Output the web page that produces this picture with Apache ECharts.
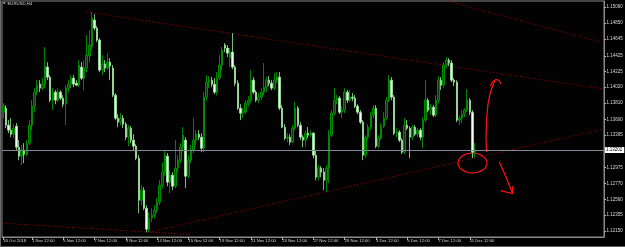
<!DOCTYPE html>
<html><head><meta charset="utf-8">
<script src="https://cdn.jsdelivr.net/npm/echarts@6/dist/echarts.min.js"></script>
<style>html,body{margin:0;padding:0;background:#000}#c{width:625px;height:247px}</style>
</head><body><div id="c"></div>
<script>
// ---- DATA (EURUSD, H4) ----
const symbolTitle = 'EURUSD,H4';
const opens = [1.13694,1.13746,1.13525,1.13460,1.13408,1.13512,1.13239,1.13122,1.13200,1.13148,1.13291,1.13525,1.13772,1.13954,1.14058,1.14006,1.14058,1.14279,1.14149,1.13850,
1.13954,1.13850,1.13954,1.13876,1.13798,1.14006,1.14058,1.14136,1.14071,1.14045,1.14279,1.14136,1.14266,1.14422,1.14552,1.14890,1.14786,1.14630,1.14240,1.14318,
1.14266,1.14344,1.14266,1.13915,1.13616,1.13564,1.13616,1.13538,1.13369,1.13486,1.13330,1.13252,1.13096,1.12550,1.12680,1.12446,1.12173,1.12316,1.12355,1.12420,
1.12524,1.12745,1.12914,1.13122,1.12784,1.12875,1.12732,1.12966,1.13070,1.13239,1.13330,1.12862,1.13070,1.13200,1.13330,1.13408,1.13369,1.13226,1.13889,1.14084,
1.14110,1.14058,1.13954,1.14136,1.14305,1.14565,1.14526,1.14396,1.14474,1.14279,1.14071,1.13746,1.13681,1.13694,1.13811,1.13850,1.14110,1.13954,1.13850,1.13889,
1.13954,1.14019,1.14110,1.14071,1.14006,1.14110,1.14149,1.13746,1.13499,1.13356,1.13369,1.13304,1.13486,1.13746,1.13525,1.13369,1.13330,1.13421,1.13395,1.13421,
1.13135,1.12849,1.12966,1.12914,1.12810,1.12966,1.13395,1.13681,1.13850,1.13876,1.13694,1.13720,1.13954,1.13850,1.13889,1.13876,1.13772,1.13694,1.13564,1.13135,
1.13369,1.13499,1.13655,1.13746,1.13252,1.13356,1.13512,1.13616,1.13850,1.14110,1.13889,1.13421,1.13434,1.13330,1.13174,1.13525,1.13486,1.13369,1.13499,1.13408,
1.13460,1.13369,1.13590,1.13850,1.13720,1.13759,1.13655,1.13850,1.14110,1.14045,1.14305,1.14370,1.14331,1.14110,1.14084,1.13590,1.13616,1.13668,1.13720,1.13850,
1.13694,1.13174];
const closes = [1.13772,1.13525,1.13460,1.13408,1.13486,1.13239,1.13122,1.13200,1.13148,1.13291,1.13525,1.13772,1.13954,1.14045,1.14006,1.14058,1.14292,1.14149,1.13850,1.13954,
1.13850,1.13954,1.13876,1.13798,1.14006,1.14058,1.14136,1.14058,1.14045,1.14305,1.14136,1.14266,1.14435,1.14565,1.14916,1.14786,1.14630,1.14240,1.14318,1.14266,
1.14344,1.14292,1.13915,1.13616,1.13564,1.13616,1.13538,1.13369,1.13486,1.13330,1.13252,1.13096,1.12550,1.12680,1.12446,1.12173,1.12316,1.12355,1.12420,1.12524,
1.12745,1.12914,1.13135,1.12784,1.12875,1.12732,1.12966,1.13070,1.13239,1.13395,1.12862,1.13070,1.13200,1.13330,1.13408,1.13369,1.13226,1.13889,1.14084,1.14110,
1.14058,1.13954,1.14136,1.14305,1.14500,1.14526,1.14461,1.14474,1.14279,1.14071,1.13746,1.13681,1.13694,1.13811,1.13850,1.14110,1.13954,1.13850,1.13889,1.13954,
1.14019,1.14110,1.14071,1.14006,1.14110,1.14149,1.13746,1.13499,1.13356,1.13369,1.13304,1.13486,1.13746,1.13525,1.13369,1.13330,1.13421,1.13395,1.13421,1.13135,
1.12849,1.12966,1.12914,1.12810,1.12966,1.13395,1.13681,1.13850,1.13876,1.13694,1.13720,1.13954,1.13850,1.13889,1.13876,1.13772,1.13694,1.13564,1.13135,1.13369,
1.13499,1.13655,1.13746,1.13252,1.13356,1.13512,1.13616,1.13850,1.14110,1.13889,1.13421,1.13434,1.13330,1.13174,1.13525,1.13486,1.13369,1.13499,1.13408,1.13460,
1.13369,1.13590,1.13850,1.13720,1.13759,1.13655,1.13850,1.14110,1.14045,1.14305,1.14370,1.14331,1.14110,1.14084,1.13590,1.13616,1.13668,1.13720,1.13850,1.13694,
1.13174,1.13202];
const lows = [1.13616,1.13486,1.13421,1.13369,1.13356,1.13200,1.13070,1.13005,1.13031,1.13122,1.13265,1.13460,1.13694,1.13915,1.13954,1.13980,1.14006,1.14110,1.13824,1.13720,
1.13798,1.13824,1.13850,1.13759,1.13525,1.13954,1.14006,1.14019,1.14032,1.14019,1.14110,1.13980,1.14214,1.14344,1.14500,1.14760,1.14604,1.14214,1.14175,1.14214,
1.14240,1.14110,1.13889,1.13590,1.13499,1.13525,1.13486,1.13330,1.13252,1.13291,1.13200,1.13070,1.12381,1.12485,1.12420,1.12134,1.12134,1.12264,1.12316,1.12381,
1.12485,1.12706,1.12862,1.12732,1.12641,1.12680,1.12706,1.12914,1.13031,1.13200,1.12706,1.12836,1.13031,1.13161,1.13265,1.13330,1.13174,1.13174,1.13850,1.14006,
1.14019,1.13928,1.13915,1.14110,1.14240,1.14474,1.14409,1.14279,1.14253,1.14032,1.13720,1.13590,1.13616,1.13668,1.13772,1.13811,1.13928,1.13824,1.13811,1.13850,
1.13915,1.13954,1.14032,1.13980,1.13980,1.14071,1.13720,1.13486,1.13330,1.13304,1.13265,1.13291,1.13460,1.13499,1.13330,1.13239,1.13239,1.13356,1.13369,1.13096,
1.12810,1.12810,1.12849,1.12680,1.12654,1.12771,1.13369,1.13655,1.13798,1.13668,1.13616,1.13681,1.13811,1.13824,1.13837,1.13746,1.13668,1.13538,1.13070,1.13096,
1.13330,1.13460,1.13616,1.13226,1.13226,1.13330,1.13486,1.13590,1.13824,1.13850,1.13395,1.13369,1.13304,1.13148,1.13148,1.13460,1.13096,1.13330,1.13382,1.13369,
1.13330,1.13226,1.13564,1.13694,1.13655,1.13629,1.13629,1.13811,1.13980,1.14006,1.14266,1.14292,1.14084,1.14032,1.13564,1.13525,1.13551,1.13629,1.13694,1.13655,
1.13096,1.13109];
const highs = [1.13811,1.13785,1.13590,1.13616,1.13538,1.13551,1.13330,1.13265,1.13291,1.13330,1.13590,1.13850,1.14006,1.14110,1.14110,1.14136,1.14539,1.14344,1.14175,1.14006,
1.13980,1.14006,1.13980,1.13915,1.14045,1.14110,1.14175,1.14175,1.14110,1.14370,1.14344,1.14370,1.14695,1.14760,1.14994,1.14968,1.14812,1.14656,1.14435,1.14370,
1.14461,1.14396,1.14305,1.13941,1.13668,1.13681,1.13655,1.13564,1.13525,1.13512,1.13408,1.13278,1.13135,1.12745,1.12719,1.12485,1.12394,1.12446,1.12485,1.12576,
1.12810,1.13044,1.13200,1.13161,1.12940,1.12914,1.13330,1.13135,1.13291,1.13499,1.13369,1.13135,1.13265,1.13616,1.13460,1.13460,1.13421,1.13954,1.14175,1.14162,
1.14149,1.14136,1.14214,1.14435,1.14539,1.14591,1.14565,1.14526,1.14721,1.14305,1.14110,1.13798,1.13746,1.13850,1.13902,1.14240,1.14149,1.13980,1.13941,1.14006,
1.14331,1.14149,1.14162,1.14110,1.14201,1.14214,1.14214,1.13785,1.13538,1.13421,1.13408,1.13525,1.13824,1.13772,1.13564,1.13395,1.13460,1.13499,1.13460,1.13434,
1.13200,1.13005,1.12992,1.12966,1.13005,1.13460,1.13720,1.14006,1.13915,1.13902,1.13772,1.14006,1.13980,1.13980,1.13941,1.13915,1.13798,1.13720,1.13590,1.13395,
1.13538,1.13694,1.13785,1.13785,1.13395,1.13551,1.13694,1.13889,1.14175,1.14149,1.13915,1.13486,1.13460,1.13356,1.13616,1.13590,1.13512,1.13525,1.13525,1.13486,
1.13486,1.13629,1.14110,1.13876,1.13798,1.13785,1.13915,1.14162,1.14149,1.14344,1.14409,1.14396,1.14370,1.14136,1.14110,1.13655,1.13720,1.13746,1.13993,1.13876,
1.13720,1.13291];

// time axis: first bar 30 Oct 2018 16:00, H4 bars Mon-Fri, plus empty future bars (chart shift)
const firstBarUTC = Date.UTC(2018, 9, 30, 16);
const totalSlots = 231;
const xTickIdx = [0, 11, 23, 35, 47, 59, 71, 83, 95, 107, 119, 131, 143, 155, 167, 179];
const xTickLabels = ['30 Oct 2018','1 Nov 12:00','5 Nov 12:00','7 Nov 12:00','9 Nov 12:00','13 Nov 12:00','15 Nov 12:00',
  '19 Nov 12:00','21 Nov 12:00','23 Nov 12:00','27 Nov 12:00','29 Nov 12:00','3 Dec 12:00','5 Dec 12:00','7 Dec 12:00','11 Dec 12:00'];
const yTickLabels = ['1.15060','1.14850','1.14645','1.14425','1.14225','1.14020','1.13810','1.13600','1.13395',
  '1.12975','1.12770','1.12560','1.12355','1.12150'];
const bidPrice = 1.13202;
const bidLabel = '1.13202';
const yMin = 1.12072, yMax = 1.15138;

// trend lines: [barIndex, price]
const lineUpper = [[32, 1.14995], [230, 1.13997]];
const lineTopRight = [[166, 1.15176], [230, 1.14598]];
const lineLowerLeft = [[0, 1.12251], [72, 1.12103]];
const lineSupport = [[56, 1.12137], [230, 1.13473]];

// ---- build ----
const MON = ['Jan','Feb','Mar','Apr','May','Jun','Jul','Aug','Sep','Oct','Nov','Dec'];
const categories = [];
let t = firstBarUTC;
while (categories.length < totalSlots) {
  const d = new Date(t);
  const wd = d.getUTCDay();
  if (wd !== 0 && wd !== 6) {
    categories.push(d.getUTCDate() + ' ' + MON[d.getUTCMonth()] + ' ' + String(d.getUTCHours()).padStart(2,'0') + ':00');
  }
  t += 4 * 3600 * 1000;
}
const ohlc = opens.map((o, i) => [o, closes[i], lows[i], highs[i]]);
const tickSet = new Set(xTickIdx);
const tickText = {};
xTickIdx.forEach((k, j) => tickText[k] = xTickLabels[j]);
const yTickValues = yTickLabels.map(Number);

const chart = echarts.init(document.getElementById('c'), null, {renderer: 'canvas'});
const FONT = 'Liberation Sans';
const trend = (data) => ({
  type: 'line', data: data, showSymbol: false, symbol: 'none', silent: true, clip: true, z: 3,
  lineStyle: {color: '#9a0000', width: 1, type: [1, 2]}
});
const red = '#ff1414';
chart.setOption({
  animation: false,
  backgroundColor: '#000000',
  grid: {left: 2, right: 21, top: 1, bottom: 10, show: true, borderColor: '#8a8a8a', borderWidth: 1,
         backgroundColor: '#020202', containLabel: false, outerBoundsMode: 'none'},
  xAxis: {
    type: 'category', data: categories, boundaryGap: true,
    axisLine: {show: true, lineStyle: {color: '#8a8a8a', width: 1}},
    axisTick: {show: true, alignWithLabel: true, length: 3, interval: (i) => tickSet.has(i), lineStyle: {color: '#b0b0b0'}},
    axisLabel: {show: true, interval: (i) => tickSet.has(i), formatter: (v, i) => tickText[i] || '',
      align: 'left', margin: 1.5, fontSize: 4.2, color: '#d8d8d8', fontFamily: FONT},
    splitLine: {show: false}
  },
  yAxis: {
    type: 'value', position: 'right', min: yMin, max: yMax, scale: true,
    axisLine: {show: true, lineStyle: {color: '#8a8a8a', width: 1}},
    axisTick: {show: true, length: 2, customValues: yTickValues, lineStyle: {color: '#b0b0b0'}},
    axisLabel: {show: true, customValues: yTickValues, formatter: (v) => Number(v).toFixed(5),
      margin: 2.5, fontSize: 4.5, color: '#d8d8d8', fontFamily: FONT},
    splitLine: {show: false}
  },
  series: [
    trend(lineUpper), trend(lineTopRight), trend(lineLowerLeft), trend(lineSupport),
    {
      type: 'candlestick', data: ohlc, barWidth: 2, z: 4,
      itemStyle: {color: '#0b3a0b', color0: '#f4fff4', borderColor: '#00a600', borderColor0: '#9de89d', borderWidth: 0.8},
      markLine: {
        silent: true, symbol: ['none', 'none'], animation: false, precision: 5,
        lineStyle: {color: '#7d8a96', type: 'solid', width: 1},
        label: {show: true, position: 'end', formatter: bidLabel, distance: 1,
          backgroundColor: '#ffffff', color: '#000000', fontSize: 4.5, fontFamily: FONT, padding: [1, 2, 0, 1]},
        data: [{yAxis: bidPrice}]
      }
    }
  ],
  graphic: [
    {type: 'line', shape: {x1: 0.5, y1: 0, x2: 0.5, y2: 247}, style: {stroke: '#6a6a6a', lineWidth: 1}},
    {type: 'line', shape: {x1: 0, y1: 246.5, x2: 625, y2: 246.5}, style: {stroke: '#5a5a5a', lineWidth: 1}},
    {type: 'rect', shape: {x: 3, y: 2.5, width: 2.5, height: 1}, style: {fill: '#e0e0e0'}},
    {type: 'text', x: 7.5, y: 1.6, style: {text: symbolTitle, fontSize: 4.3, fontFamily: FONT, fill: '#d8d8d8'}},
    // hand-drawn red annotations
    {type: 'ellipse', shape: {cx: 472.5, cy: 163, rx: 14.5, ry: 10}, style: {stroke: red, fill: null, lineWidth: 1.2}},
    {type: 'polyline', shape: {points: [[486.5,152],[486,138],[486.5,120],[488,104],[490,94],[492.5,86],[495,80.5]]},
      style: {stroke: red, fill: null, lineWidth: 1.2}},
    {type: 'polyline', shape: {points: [[490,86],[493,81.5],[496,79.5],[499,80.5],[501,84]]},
      style: {stroke: red, fill: null, lineWidth: 1.2}},
    {type: 'polyline', shape: {points: [[499.3,161.7],[506,177],[512.5,193.5]]},
      style: {stroke: red, fill: null, lineWidth: 1.2}},
    {type: 'polyline', shape: {points: [[500.7,190.7],[512.5,193.5],[512.7,186]]},
      style: {stroke: red, fill: null, lineWidth: 1.2}}
  ]
});
</script></body></html>
